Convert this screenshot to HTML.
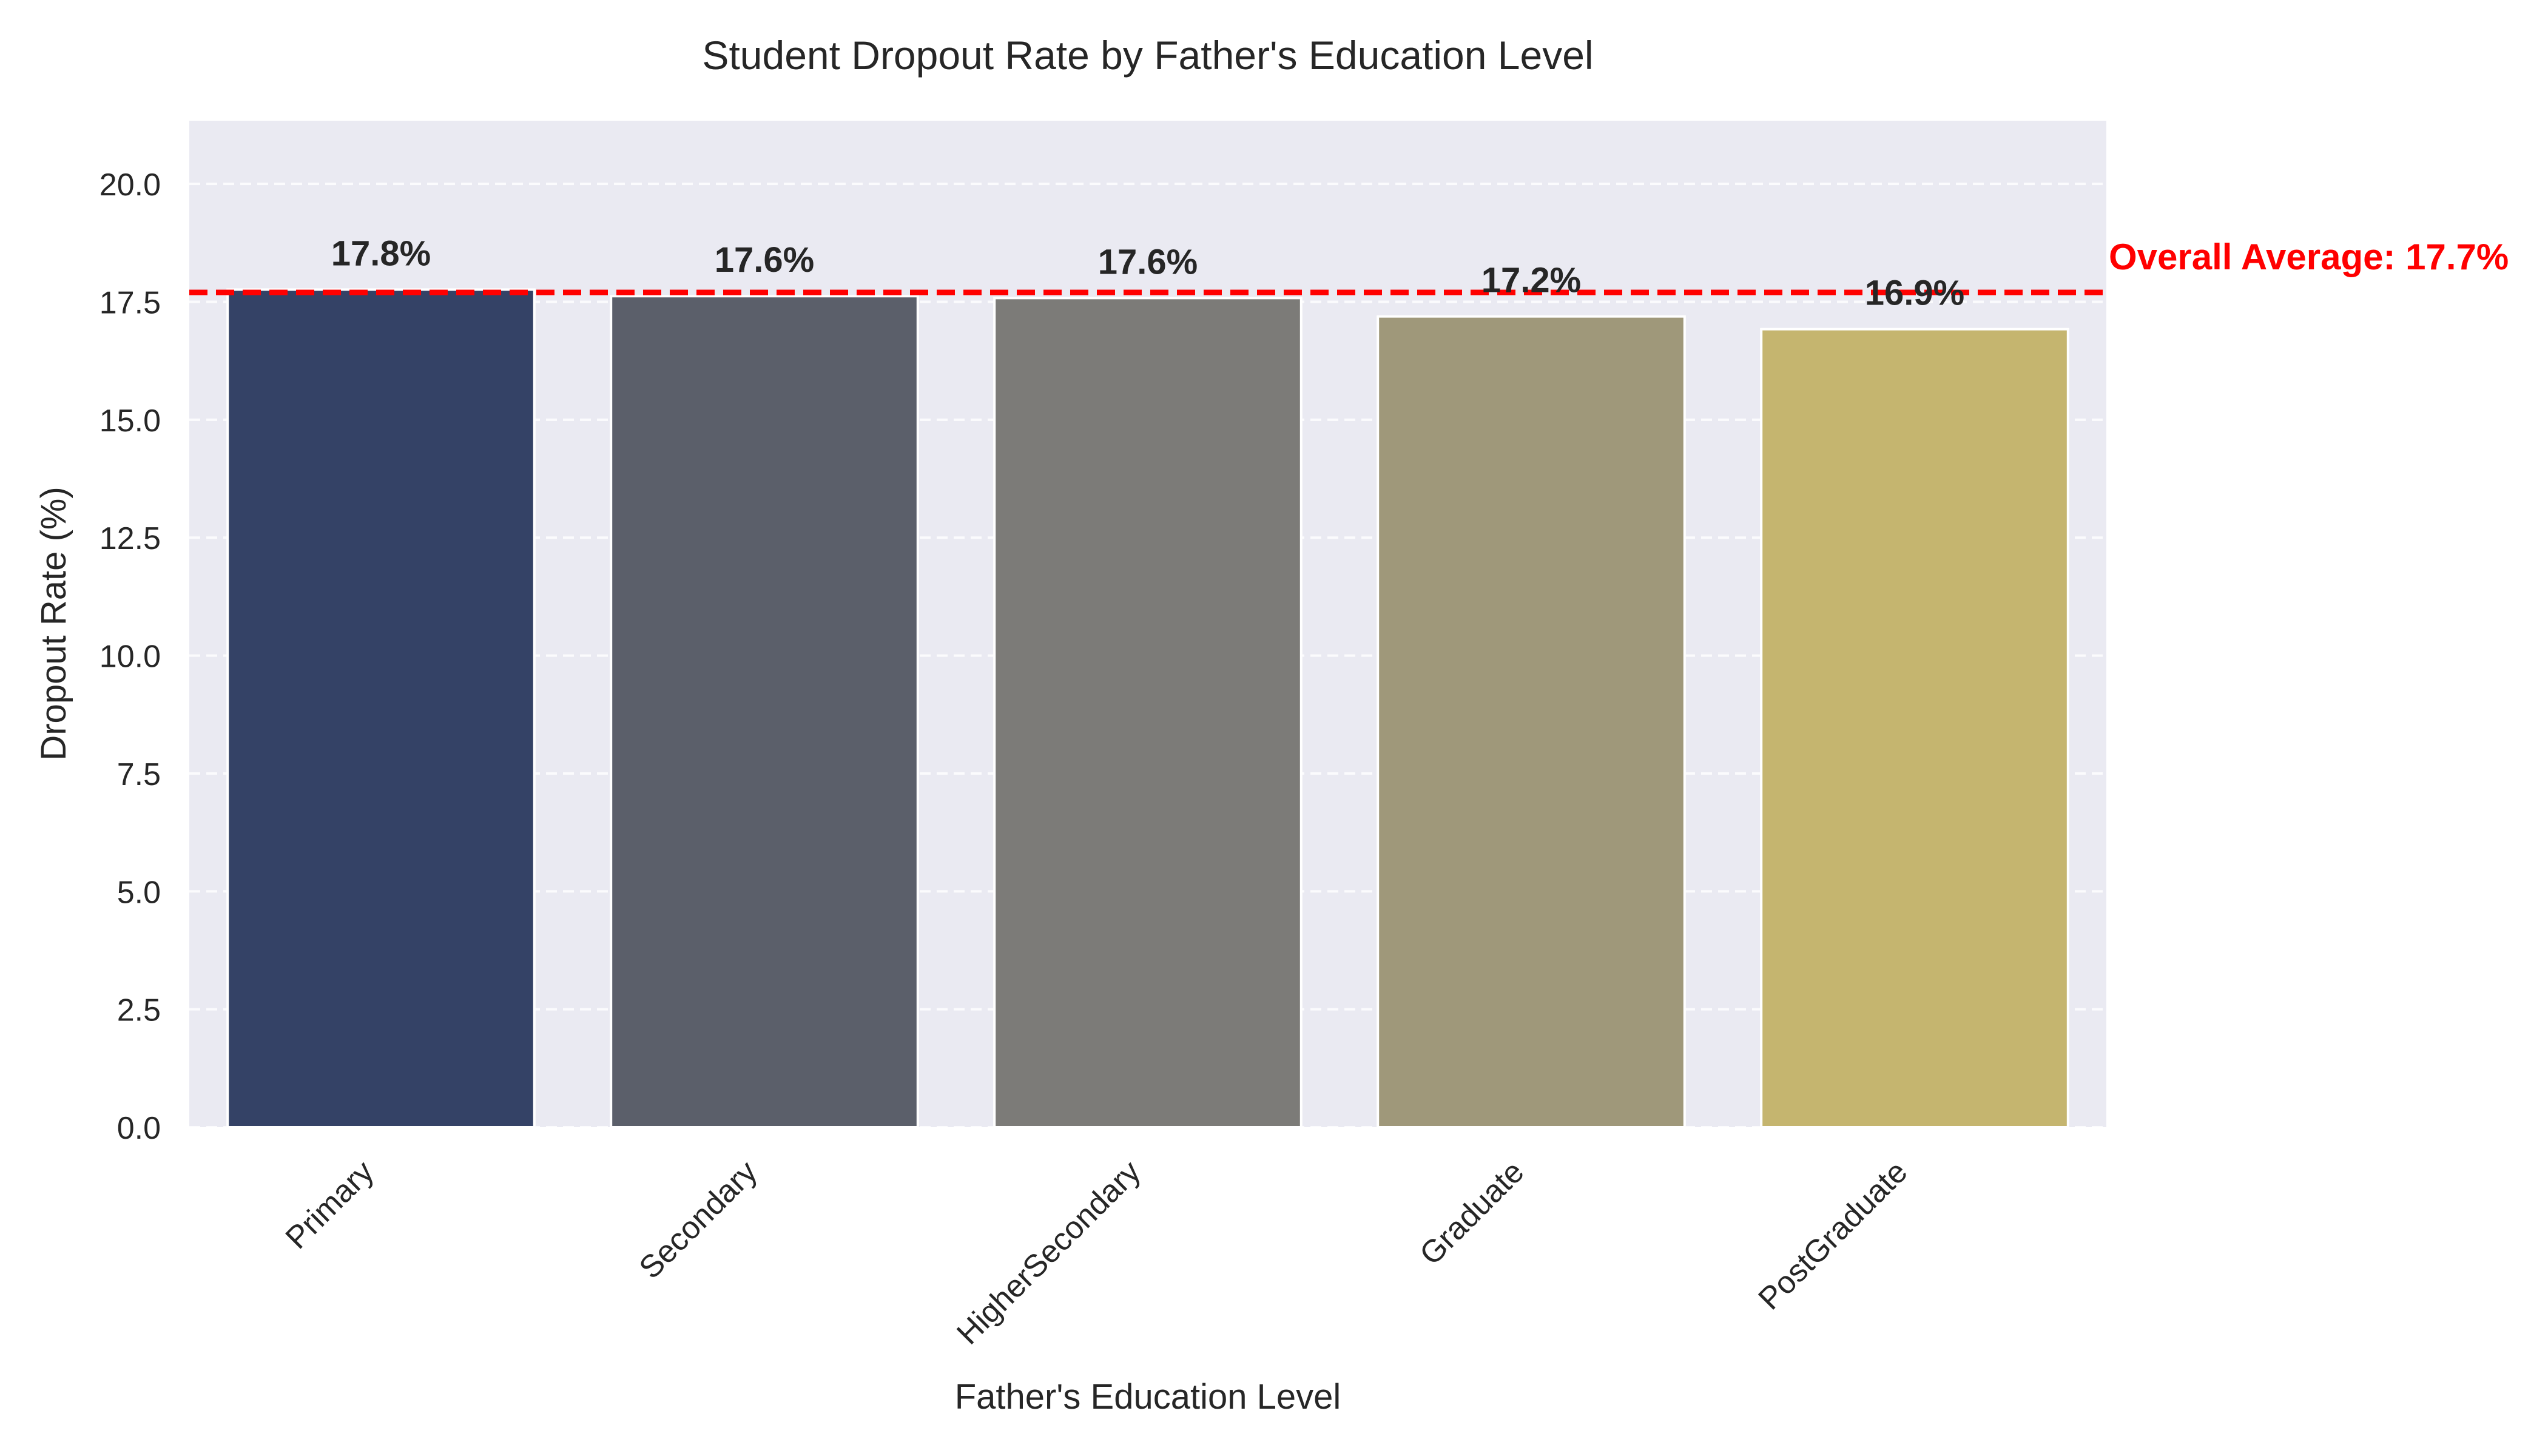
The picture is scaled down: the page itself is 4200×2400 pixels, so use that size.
<!DOCTYPE html>
<html><head><meta charset="utf-8"><style>
html,body{margin:0;padding:0;background:#fff}
svg{display:block;font-family:"Liberation Sans",Arial,sans-serif}
</style></head><body>
<svg id="chart" width="4200" height="2400" viewBox="0 0 4200 2400" xmlns="http://www.w3.org/2000/svg">
<rect x="0" y="0" width="4200" height="2400" fill="#ffffff"/>
<rect x="312" y="199" width="3160" height="1659" fill="#eaeaf2"/>
<g id="grid"></g>
<g id="yticks"></g>
<g id="bars"></g>
<g id="avg"></g>
<g id="vlabels"></g>
<g id="xticks"></g>
<text x="1892" y="114" font-size="66" fill="#262626" text-anchor="middle">Student Dropout Rate by Father's Education Level</text>
<text x="1892" y="2322" font-size="58" fill="#262626" text-anchor="middle">Father's Education Level</text>
<text x="0" y="0" font-size="58" fill="#262626" text-anchor="middle" transform="translate(108,1028) rotate(-90)">Dropout Rate (%)</text>
</svg>
<script>
const categories = ["Primary", "Secondary", "HigherSecondary", "Graduate", "PostGraduate"];
const rates = [17.76, 17.62, 17.58, 17.19, 16.92];
const barColors = ["#344266", "#5b5f6a", "#7c7b78", "#9f987a", "#c5b56f"];
const yTicks = [0, 2.5, 5, 7.5, 10, 12.5, 15, 17.5, 20];
const overallAverage = 17.7;

const NS = "http://www.w3.org/2000/svg";
const plotL = 312, plotR = 3472, plotT = 199, plotB = 1858;
const yMin = 0, yMax = 21.34;
function yScale(v){ return plotB - (v - yMin) / (yMax - yMin) * (plotB - plotT); }
const slot = (plotR - plotL) / categories.length;
function xCenter(i){ return plotL + slot * (i + 0.5); }
const barW = slot * 0.8;

function mk(tag, attrs, parent){
  const el = document.createElementNS(NS, tag);
  for (const k in attrs) el.setAttribute(k, attrs[k]);
  parent.appendChild(el);
  return el;
}

const grid = document.getElementById("grid");
const yt = document.getElementById("yticks");
yTicks.forEach(t => {
  const y = yScale(t);
  const ln = mk("line", {x1: plotL, x2: plotR, y1: y, y2: y, stroke: "#ffffff", "stroke-width": 4, "stroke-dasharray": "18,10", opacity: 0.85}, grid);
  
  
  const tx = mk("text", {x: 265, y: y + 19, "font-size": 52, fill: "#262626", "text-anchor": "end"}, yt);
  tx.textContent = t.toFixed(1);
  
  
});

const bars = document.getElementById("bars");
const vl = document.getElementById("vlabels");
const xt = document.getElementById("xticks");
categories.forEach((c, i) => {
  const top = yScale(rates[i]);
  const r = mk("rect", {x: xCenter(i) - barW / 2, y: top, width: barW, height: yScale(0) - top, fill: barColors[i], stroke: "#ffffff", "stroke-width": 4}, bars);
  
  
  const lb = mk("text", {x: xCenter(i), y: top - 40, "font-size": 58, "font-weight": "bold", fill: "#262626", "text-anchor": "middle"}, vl);
  lb.textContent = rates[i].toFixed(1) + "%";
  
  
  const ax = xCenter(i) - 9, ay = plotB + 77;
  const xl = mk("text", {x: 0, y: 0, "font-size": 52, fill: "#262626", "text-anchor": "end", transform: "translate(" + ax + "," + ay + ") rotate(-45)"}, xt);
  xl.textContent = c;
  
  
});

const avg = document.getElementById("avg");
const ay2 = yScale(overallAverage);
const al = mk("line", {x1: plotL, x2: plotR, y1: ay2, y2: ay2, stroke: "#ff0000", "stroke-width": 9, "stroke-dasharray": "30,14"}, avg);


const at = mk("text", {x: plotR + 4, y: ay2 - 38, "font-size": 60, "font-weight": "bold", fill: "#ff0000", "text-anchor": "start"}, avg);
at.textContent = "Overall Average: " + overallAverage.toFixed(1) + "%";


</script>
</body></html>
